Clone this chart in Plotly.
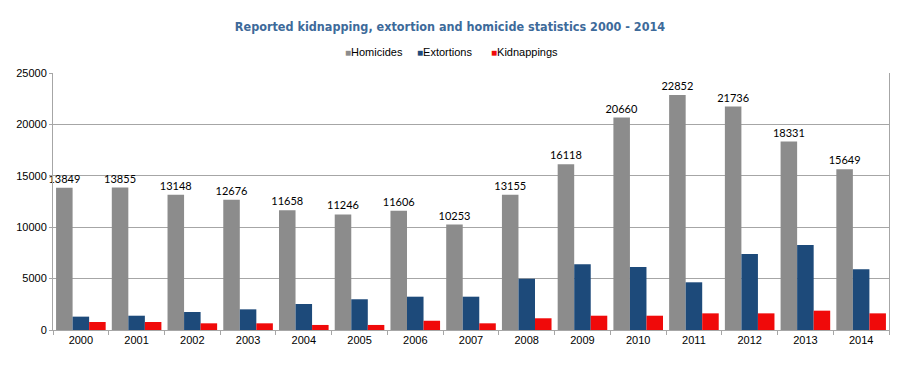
import plotly.graph_objects as go

years = ["2000", "2001", "2002", "2003", "2004", "2005", "2006", "2007",
         "2008", "2009", "2010", "2011", "2012", "2013", "2014"]
homicides = [13849, 13855, 13148, 12676, 11658, 11246, 11606, 10253,
             13155, 16118, 20660, 22852, 21736, 18331, 15649]
extortions = [1300, 1390, 1750, 2010, 2530, 2990, 3240, 3240,
              4990, 6390, 6130, 4640, 7390, 8270, 5900]
kidnappings = [780, 780, 650, 650, 490, 490, 900, 650,
               1140, 1390, 1390, 1620, 1620, 1880, 1620]

series_names = ["Homicides", "Extortions", "Kidnappings"]
series_colors = ["#8c8c8c", "#1d4a7a", "#f00a0a"]

fig = go.Figure()
fig.add_trace(go.Bar(
    x=years, y=homicides, name=series_names[0],
    marker=dict(color=series_colors[0], line=dict(width=0)),
    text=[str(v) for v in homicides], textposition="outside",
    constraintext="none",
    textfont=dict(family="Lato, Noto Sans, sans-serif", size=11, color="#000000"),
    cliponaxis=False,
))
fig.add_trace(go.Bar(
    x=years, y=extortions, name=series_names[1],
    marker=dict(color=series_colors[1], line=dict(width=0)),
))
fig.add_trace(go.Bar(
    x=years, y=kidnappings, name=series_names[2],
    marker=dict(color=series_colors[2], line=dict(width=0)),
))

# legend drawn as text annotations (small square + label)
legend_x = [0.347, 0.433, 0.521]
for name, col, lx in zip(series_names, series_colors, legend_x):
    fig.add_annotation(
        xref="paper", yref="paper", x=lx, y=1.083, xanchor="left", yanchor="middle",
        showarrow=False,
        text=f"<span style='color:{col};font-size:10px'>■</span>{name}",
        font=dict(family="Liberation Sans, Arial, sans-serif", size=11, color="#000000"),
    )

fig.update_layout(
    width=900, height=367,
    paper_bgcolor="white", plot_bgcolor="white",
    margin=dict(l=53, r=11, t=73, b=37, autoexpand=False),
    barmode="group", bargap=0.11, bargroupgap=0,
    showlegend=False,
    title=dict(
        text="Reported kidnapping, extortion and homicide statistics 2000 - 2014",
        x=0.5, xanchor="center", y=0.94, yanchor="top",
        font=dict(family="DejaVu Sans Condensed, sans-serif", size=12.5,
                  color="#3d6a9a", weight="bold"),
    ),
)
fig.update_xaxes(
    showgrid=False, showline=True, linecolor="#a6a6a6", linewidth=1,
    ticks="outside", ticklen=4, tickcolor="#a6a6a6",
    tickson="boundaries",
    tickfont=dict(family="Liberation Sans, Arial, sans-serif", size=11, color="#000000"),
)
fig.update_yaxes(
    range=[0, 25000], dtick=5000, tick0=0, tickformat="d",
    showgrid=True, gridcolor="#a6a6a6", gridwidth=1,
    showline=True, linecolor="#a6a6a6", linewidth=1, mirror=True,
    ticks="outside", ticklen=3, tickcolor="#a6a6a6",
    tickfont=dict(family="Liberation Sans, Arial, sans-serif", size=11, color="#000000"),
    zeroline=False,
)

fig.write_html("out.html", config={"displayModeBar": False},
               post_script="document.body.style.margin='0px';document.body.style.overflow='hidden';")
